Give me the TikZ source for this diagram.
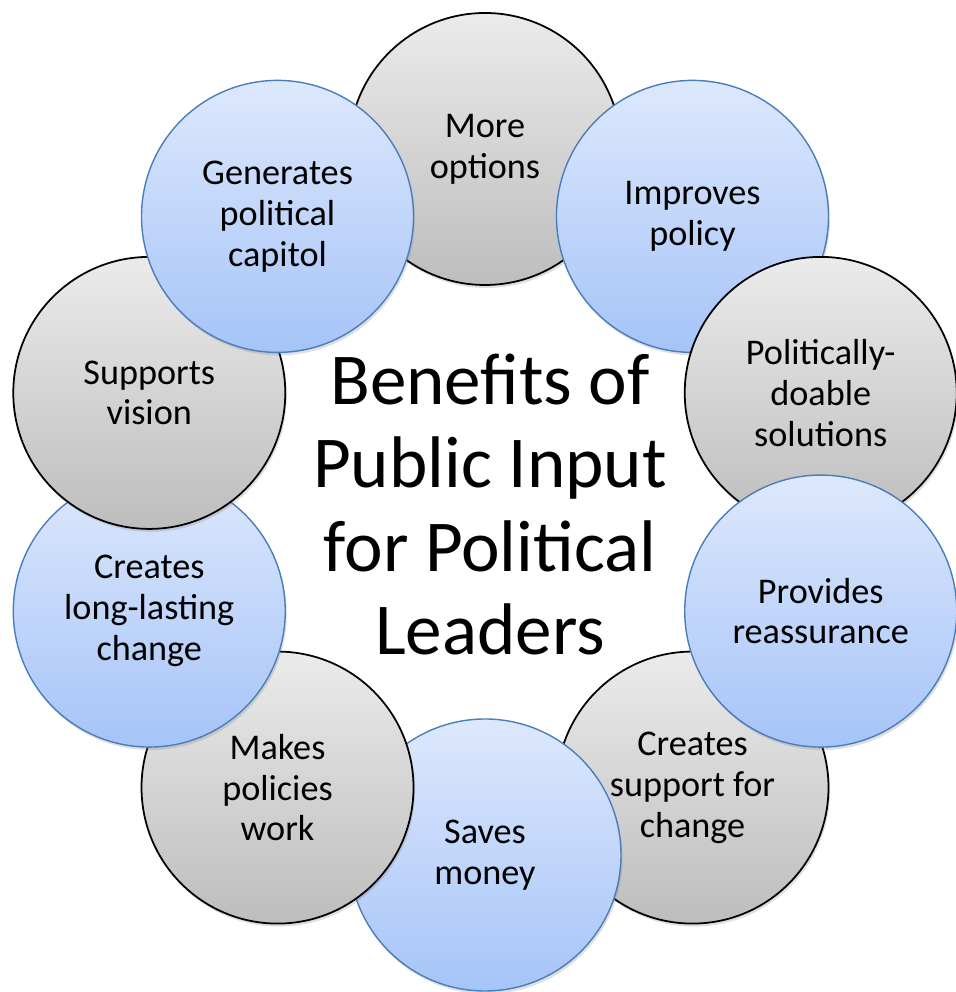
\documentclass[tikz,border=0pt]{standalone}
\usepackage{fontspec}
\setmainfont{Carlito}
\usetikzlibrary{calc,shadows}
\definecolor{bluetop}{HTML}{DDE8FC}
\definecolor{bluebot}{HTML}{A6C4F8}
\definecolor{blueline}{HTML}{4A7EBB}
\definecolor{graytop}{HTML}{EBEBEB}
\definecolor{graybot}{HTML}{BDBDBD}
\begin{document}
\begin{tikzpicture}[
    ring/.style={circle, minimum size=5.44cm, inner sep=0pt,
        drop shadow={opacity=0.25, shadow xshift=0.03cm, shadow yshift=-0.06cm}},
    bluecircle/.style={ring, draw=blueline, line width=0.8pt, top color=bluetop, bottom color=bluebot},
    graycircle/.style={ring, draw=black, line width=1pt, top color=graytop, bottom color=graybot},
    benefit/.style={align=center, font=\fontsize{20.6}{23.3}\selectfont},
    headline/.style={align=center, font=\fontsize{41.6}{47.5}\selectfont}
]
    \useasboundingbox (0,0) rectangle (19.1,19.84);
    \coordinate (hub) at (9.7,9.8);

    % circles, in the order they overlap
    \node[graycircle] (more) at ($(hub)+(90:7.06)$) {};
    \node[bluecircle] (improves) at ($(hub)+(54:7.06)$) {};
    \node[graycircle] (doable) at ($(hub)+(18:7.06)$) {};
    \node[graycircle] (support) at ($(hub)+(-54:7.06)$) {};
    \node[bluecircle] (reassure) at ($(hub)+(-18:7.06)$) {};
    \node[bluecircle] (saves) at ($(hub)+(-90:7.06)$) {};
    \node[graycircle] (makes) at ($(hub)+(-126:7.06)$) {};
    \node[bluecircle] (lasting) at ($(hub)+(-162:7.06)$) {};
    \node[graycircle] (vision) at ($(hub)+(162:7.06)$) {};
    \node[bluecircle] (capitol) at ($(hub)+(126:7.06)$) {};

    % texts on top
    \node[benefit] (more-t) at (more) {More\\options};
    \node[benefit] (improves-t) at (improves) {Improves\\policy};
    \node[benefit] (doable-t) at (doable) {Politically-\\doable\\solutions};
    \node[benefit] (reassure-t) at (reassure) {Provides\\reassurance};
    \node[benefit] (support-t) at (support) {Creates\\support for\\change};
    \node[benefit] (saves-t) at (saves) {Saves\\money};
    \node[benefit] (makes-t) at (makes) {Makes\\policies\\work};
    \node[benefit] (lasting-t) at (lasting) {Creates\\long-lasting\\change};
    \node[benefit] (vision-t) at (vision) {Supports\\vision};
    \node[benefit] (capitol-t) at (capitol) {Generates\\political\\capitol};

    \node[headline] (title) at ($(hub)+(0.1,-0.05)$) {Benefits of\\Public Input\\for Political\\Leaders};
\end{tikzpicture}
\end{document}
